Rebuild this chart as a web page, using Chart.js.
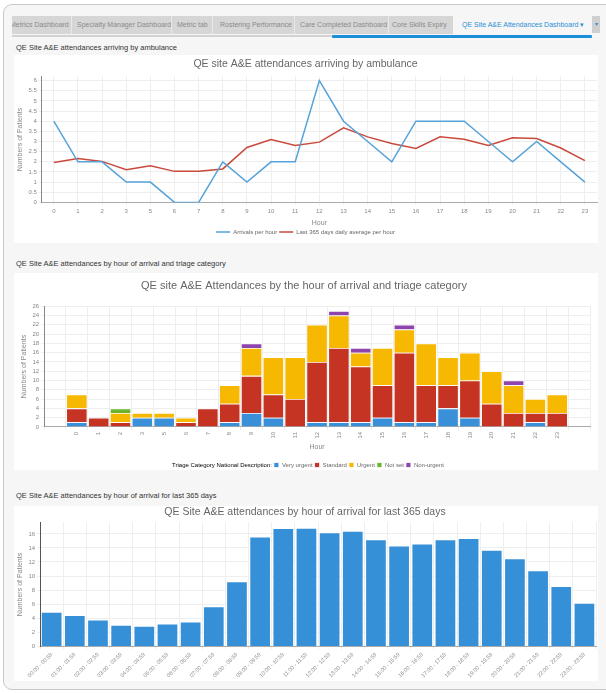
<!DOCTYPE html>
<html>
<head>
<meta charset="utf-8">
<title>QE Site A&amp;E Attendances Dashboard</title>
<script src="https://cdn.jsdelivr.net/npm/chart.js@4.4.0/dist/chart.umd.min.js"></script>
<style>
body{margin:0;background:#fff;width:606px;height:693px;overflow:hidden;position:relative;font-family:"Liberation Sans",Arial,sans-serif;}
#frame{position:absolute;left:3px;top:4px;width:640px;height:684px;border:1px solid #c9c9c9;border-radius:9px;background:#f6f6f6;}
#tabs{position:absolute;left:12px;top:16px;width:579px;height:18px;background:#d6d6d6;overflow:hidden;}
.tab{position:absolute;top:0;height:18px;line-height:18px;font-size:7px;color:#8a8a8a;white-space:nowrap;}
.sep{position:absolute;top:0;width:1px;height:18px;background:#e9e9e9;}
#active{position:absolute;left:441px;top:0;width:138px;height:18px;background:#f6f6f6;}
#active span{position:absolute;left:9px;top:0;line-height:18px;font-size:7px;color:#2b8fd6;white-space:nowrap;}
#drop{position:absolute;left:592px;top:16px;width:8px;height:17px;background:#cfcfcf;color:#2b8fd6;font-size:6px;line-height:17px;text-align:center;}
#lineGray{position:absolute;left:12px;top:35px;width:320px;height:2px;background:#d2d2d2;}
#lineBlue{position:absolute;left:332px;top:35px;width:260px;height:3px;background:#1b8ed8;border-radius:1px;}
.hdr{position:absolute;left:16px;font-size:7.5px;color:#333;white-space:nowrap;}
.panel{position:absolute;left:14px;width:584px;background:#fff;}
.chartbox{position:absolute;left:14px;width:584px;}
.chartbox canvas{display:block;}
</style>
</head>
<body>
<div id="frame"></div>
<div id="tabs">
  <span class="tab" style="left:-2px">Metrics Dashboard</span>
  <span class="sep" style="left:59px"></span>
  <span class="tab" style="left:65px">Specialty Manager Dashboard</span>
  <span class="sep" style="left:159px"></span>
  <span class="tab" style="left:165px">Metric tab</span>
  <span class="sep" style="left:200px"></span>
  <span class="tab" style="left:208px">Rostering Performance</span>
  <span class="sep" style="left:282px"></span>
  <span class="tab" style="left:288px">Care Completed Dashboard</span>
  <span class="sep" style="left:376px"></span>
  <span class="tab" style="left:380px">Core Skills Expiry</span>
  <div id="active"><span>QE Site A&amp;E Attendances Dashboard &#9662;</span></div>
</div>
<div id="drop">&#9662;</div>
<div id="lineGray"></div>
<div id="lineBlue"></div>

<div class="hdr" style="top:43px">QE Site A&amp;E attendances arriving by ambulance</div>
<div class="panel" style="top:55px;height:188px"></div>
<div class="chartbox" style="top:55px;height:190px"><canvas id="ambulanceChart"></canvas></div>

<div class="hdr" style="top:259px">QE Site A&amp;E attendances by hour of arrival and triage category</div>
<div class="panel" style="top:273px;height:197px"></div>
<div class="chartbox" style="top:273px;height:205px"><canvas id="triageChart"></canvas></div>

<div class="hdr" style="top:491px">QE Site A&amp;E attendances by hour of arrival for last 365 days</div>
<div class="panel" style="top:506px;height:175px"></div>
<div class="chartbox" style="top:506px;height:175px"><canvas id="yearChart"></canvas></div>

<script>
// hours present in the data (no row for hour 4)
var hours = ['0','1','2','3','5','6','7','8','9','10','11','12','13','14','15','16','17','18','19','20','21','22','23'];

// chart 1 - ambulance arrivals
var arrivalsPerHour = [4,2,2,1,1,0,0,2,1,2,2,6,4,3,2,4,4,4,3,2,3,2,1];
var dailyAverage365 = [1.97,2.16,2.02,1.61,1.81,1.53,1.53,1.65,2.71,3.10,2.81,2.97,3.68,3.23,2.90,2.66,3.23,3.11,2.81,3.19,3.15,2.68,2.06];
var ambulanceTicks = [0,0.5,1,1.5,2,2.5,3,3.5,4,4.5,5,5.5,6];

// chart 2 - triage category
var veryUrgent = [1,0,0,2,2,0,0,1,3,2,0,1,1,1,2,1,1,4,2,0,0,1,0];
var standard   = [3,2,1,0,0,1,4,4,8,5,6,13,16,12,7,15,8,5,8,5,3,2,3];
var urgent     = [3,0,2,1,1,1,0,4,6,8,9,8,7,3,8,5,9,6,6,7,6,3,4];
var notSet     = [0,0,1,0,0,0,0,0,0,0,0,0,0,0,0,0,0,0,0,0,0,0,0];
var nonUrgent  = [0,0,0,0,0,0,0,0,1,0,0,0,1,1,0,1,0,0,0,0,1,0,0];

// chart 3 - last 365 days
var hourBands = ['00:00 - 00:59','01:00 - 01:59','02:00 - 02:59','03:00 - 03:59','04:00 - 04:59','05:00 - 05:59',
  '06:00 - 06:59','07:00 - 07:59','08:00 - 08:59','09:00 - 09:59','10:00 - 10:59','11:00 - 11:59',
  '12:00 - 12:59','13:00 - 13:59','14:00 - 14:59','15:00 - 15:59','16:00 - 16:59','17:00 - 17:59',
  '18:00 - 18:59','19:00 - 19:59','20:00 - 20:59','21:00 - 21:59','22:00 - 22:59','23:00 - 23:59'];
var avgPatients = [4.9,4.43,3.81,3.05,2.9,3.24,3.52,5.67,9.24,15.6,16.8,16.85,16.2,16.4,15.2,14.3,14.6,15.2,15.4,13.7,12.5,10.8,8.57,6.19];
var yearTicks = [0,2,4,6,8,10,12,14,16];

Chart.defaults.font.family = '"Liberation Sans", Arial, sans-serif';
Chart.defaults.color = '#888';
Chart.defaults.animation = false;

var gridColor = '#eeeeee';
var tickFont = {size: 6};

function yTitle(){
	return {display: true, text: 'Numbers of Patients', color: '#888', font: {size: 7}, padding: 2};
}
function fixedTicks(list){
	return function(scale){
		scale.ticks = list.map(function(v){ return {value: v}; });
	};
}
function plainLabel(value){ return String(value); }

// Chart 1
var ctx1 = document.getElementById('ambulanceChart').getContext('2d');
new Chart(ctx1, {
	type: 'line',
	data: {
		labels: hours,
		datasets: [
			{label: 'Arrivals per hour', data: arrivalsPerHour, borderColor: '#56a3da', backgroundColor: '#56a3da', borderWidth: 1.5, pointRadius: 0, tension: 0},
			{label: 'Last 365 days daily average per hour', data: dailyAverage365, borderColor: '#c94a3c', backgroundColor: '#c94a3c', borderWidth: 1.5, pointRadius: 0, tension: 0}
		]
	},
	options: {
		responsive: true,
		maintainAspectRatio: false,
		layout: {padding: {left: 0, right: 1, top: 0, bottom: 0}},
		plugins: {
			title: {display: true, text: 'QE site A&E attendances arriving by ambulance', color: '#666', font: {size: 10.5, weight: 'normal'}, padding: {top: 3, bottom: 6}},
			legend: {position: 'bottom', labels: {usePointStyle: true, pointStyle: 'line', pointStyleWidth: 14, font: {size: 6}, color: '#666', padding: 2, boxHeight: 4}},
			tooltip: {enabled: false}
		},
		scales: {
			x: {
				offset: true,
				grid: {color: gridColor, tickLength: 3},
				border: {color: '#aaa'},
				ticks: {font: tickFont, maxRotation: 0, autoSkip: false, padding: 2},
				title: {display: true, text: 'Hour', color: '#888', font: {size: 7}, padding: {top: 2, bottom: 0}}
			},
			y: {
				min: 0, max: 6.2,
				grid: {color: gridColor, tickLength: 3},
				border: {color: '#888'},
				ticks: {font: tickFont, padding: 2, autoSkip: false, callback: plainLabel},
				afterBuildTicks: fixedTicks(ambulanceTicks),
				title: yTitle()
			}
		}
	}
});

// Chart 2 - pad one empty slot on each side like the original
function pad(arr){ return [null].concat(arr, [null]); }
var triageLabels = [''].concat(hours, ['']);

var ctx2 = document.getElementById('triageChart').getContext('2d');
new Chart(ctx2, {
	type: 'bar',
	data: {
		labels: triageLabels,
		datasets: [
			{label: 'Very urgent', data: pad(veryUrgent), backgroundColor: '#3a8fd9'},
			{label: 'Standard', data: pad(standard), backgroundColor: '#c53322'},
			{label: 'Urgent', data: pad(urgent), backgroundColor: '#f6b800'},
			{label: 'Not set', data: pad(notSet), backgroundColor: '#6ab42d'},
			{label: 'Non-urgent', data: pad(nonUrgent), backgroundColor: '#8e44ad'}
		]
	},
	options: {
		responsive: true,
		maintainAspectRatio: false,
		datasets: {bar: {borderColor: '#fff', borderWidth: 0.8, categoryPercentage: 1, barPercentage: 0.97}},
		layout: {padding: {left: 4, right: 8, top: 0, bottom: 0}},
		plugins: {
			title: {display: true, text: 'QE site A&E Attendances by the hour of arrival and triage category', color: '#666', font: {size: 11, weight: 'normal'}, padding: {top: 6, bottom: 14}},
			legend: {
				position: 'bottom',
				labels: {
					boxWidth: 5, boxHeight: 5, font: {size: 6}, color: '#666', padding: 2,
					generateLabels: function(chart){
						var items = Chart.defaults.plugins.legend.labels.generateLabels(chart);
						items.unshift({text: 'Triage Category National Description:', fillStyle: 'rgba(0,0,0,0)', strokeStyle: 'rgba(0,0,0,0)', lineWidth: 0, hidden: false, datasetIndex: -1});
						return items;
					}
				},
				onClick: function(){}
			},
			tooltip: {enabled: false}
		},
		scales: {
			x: {
				stacked: true,
				grid: {color: gridColor, tickLength: 3},
				border: {color: '#aaa'},
				ticks: {font: tickFont, minRotation: 90, maxRotation: 90, autoSkip: false, padding: 2},
				title: {display: true, text: 'Hour', color: '#888', font: {size: 7}, padding: {top: 2, bottom: 9}}
			},
			y: {
				stacked: true,
				min: 0, max: 26,
				grid: {color: gridColor, tickLength: 3},
				border: {color: '#888'},
				ticks: {font: tickFont, stepSize: 2, padding: 2, autoSkip: false},
				title: yTitle()
			}
		}
	}
});

// Chart 3
var ctx3 = document.getElementById('yearChart').getContext('2d');
new Chart(ctx3, {
	type: 'bar',
	data: {
		labels: hourBands,
		datasets: [
			{label: 'Average attendances', data: avgPatients, backgroundColor: '#3690d8', borderColor: '#fff', borderWidth: 0.8, categoryPercentage: 1, barPercentage: 0.92}
		]
	},
	options: {
		responsive: true,
		maintainAspectRatio: false,
		layout: {padding: {left: 0, right: 2, top: 0, bottom: 0}},
		plugins: {
			title: {display: true, text: 'QE Site A&E attendances by hour of arrival for last 365 days', color: '#666', font: {size: 10.5, weight: 'normal'}, padding: {top: 0, bottom: 4}},
			legend: {display: false},
			tooltip: {enabled: false}
		},
		scales: {
			x: {
				grid: {color: gridColor, tickLength: 3},
				border: {color: '#aaa'},
				ticks: {font: {size: 5.5}, minRotation: 45, maxRotation: 45, autoSkip: false, padding: 2}
			},
			y: {
				min: 0, max: 17.6,
				grid: {color: gridColor, tickLength: 3},
				border: {color: '#555'},
				ticks: {font: tickFont, padding: 2, autoSkip: false},
				afterBuildTicks: fixedTicks(yearTicks),
				title: yTitle()
			}
		}
	}
});
</script>
</body>
</html>
